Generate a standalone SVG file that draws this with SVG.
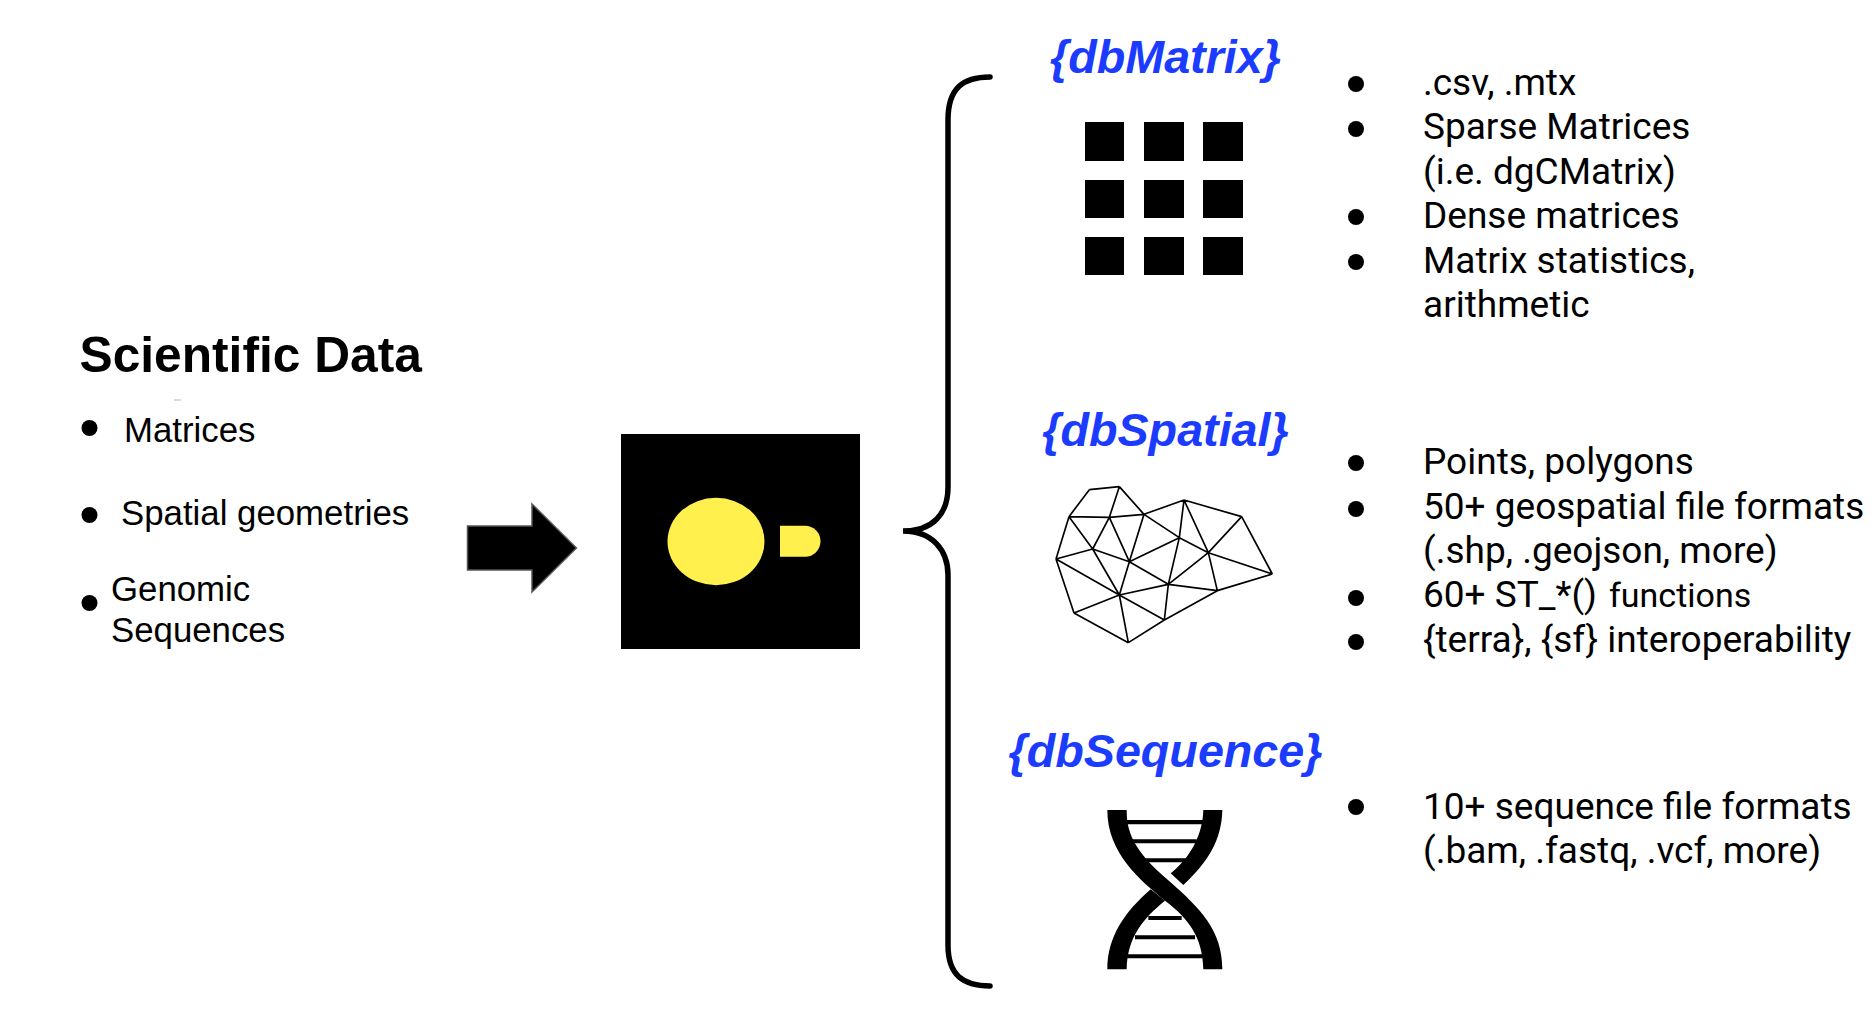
<svg xmlns="http://www.w3.org/2000/svg" width="1874" height="1026" viewBox="0 0 1874 1026">
<style>
.l{font-family:"Liberation Sans",Arial,sans-serif;font-size:34.8px;fill:#000}
.t{font-family:"Liberation Sans",Arial,sans-serif;font-size:49.7px;font-weight:700;fill:#000}
.h{font-family:"Liberation Sans",Arial,sans-serif;font-size:46.7px;font-weight:700;font-style:italic;fill:#1b3bff;text-anchor:middle}
.r{font-family:Roboto,sans-serif;font-size:37px;fill:#000}
.y{fill:#fff04d}
.sq{fill:#000}
</style>
<rect width="1874" height="1026" fill="#fff"/>
<g id="scientific-data">
<text class="t" x="79.500" y="372">Scientific Data</text>
<rect x="174" y="399.5" width="7" height="1" fill="#bbb"/>
<circle cx="89.500" cy="428" r="8"/><text class="l" x="124" y="442">Matrices</text>
<circle cx="89.500" cy="515" r="8"/><text class="l" x="121" y="524.500">Spatial geometries</text>
<circle cx="89.500" cy="603" r="8"/><text class="l" x="111" y="601">Genomic</text><text class="l" x="111" y="642">Sequences</text>
</g>
<g id="logo">
<rect x="621" y="434" width="239" height="215" fill="#000"/>
<ellipse class="y" cx="716" cy="541.5" rx="48.5" ry="43.7"/>
<path class="y" d="M780 525.7H805a15.500 15.500 0 0 1 0 31H780Z"/>
</g>
<g id="connectors">
<path d="M467.500 526H532V504L576.400 548L532 592V570H467.500Z" fill="#000" stroke="#555" stroke-width="1.500"/>
<path d="M990 77C963 77 948 88 948 120V487C948 515 932 531 903 531C932 531 948 550 948 575V945C948 975 963 986 990 986" fill="none" stroke="#000" stroke-width="5.500" stroke-linecap="round"/>
</g>
<g id="dbMatrix">
<text class="h" x="1165.500" y="73">{dbMatrix}</text>
<g>
<rect class="sq" x="1085" y="122" width="39" height="39"/><rect class="sq" x="1144" y="122" width="40" height="39"/><rect class="sq" x="1203" y="122" width="40" height="39"/>
<rect class="sq" x="1085" y="180" width="39" height="38"/><rect class="sq" x="1144" y="180" width="40" height="38"/><rect class="sq" x="1203" y="180" width="40" height="38"/>
<rect class="sq" x="1085" y="237" width="39" height="38"/><rect class="sq" x="1144" y="237" width="40" height="38"/><rect class="sq" x="1203" y="237" width="40" height="38"/>
</g>
<circle cx="1356" cy="84" r="8"/><text class="r" x="1423" y="95">.csv, .mtx</text>
<circle cx="1356" cy="129" r="8"/><text class="r" x="1423" y="139">Sparse Matrices</text>
<text class="r" x="1423" y="184">(i.e. dgCMatrix)</text>
<circle cx="1356" cy="217" r="8"/><text class="r" x="1423" y="228">Dense matrices</text>
<circle cx="1356" cy="262" r="8"/><text class="r" x="1423" y="273">Matrix statistics,</text>
<text class="r" x="1423" y="317">arithmetic</text>
</g>
<g id="dbSpatial">
<text class="h" x="1165.500" y="446">{dbSpatial}</text>
<path transform="translate(1000 450) scale(.33333)" fill="none" stroke="#000" stroke-width="5" stroke-linejoin="round" d="M268 119L358 110M268 119L207 200M358 110L328 202M358 110L432 193M207 200L328 202M328 202L432 193M432 193L552 150M552 150L725 200M432 193L538 263M552 150L538 263M552 150L625 308M725 200L625 308M725 200L817 372M207 200L278 297M328 202L278 297M328 202L388 335M432 193L388 335M207 200L168 327M168 327L278 297M278 297L388 335M388 335L538 263M538 263L625 308M538 263L505 403M625 308L817 372M625 308L505 403M625 308L652 422M388 335L505 403M388 335L358 435M278 297L358 435M168 327L358 435M168 327L222 489M222 489L358 435M358 435L505 403M505 403L652 422M505 403L493 510M652 422L817 372M652 422L493 510M358 435L493 510M358 435L385 578M222 489L385 578M493 510L385 578"/>
<circle cx="1356" cy="463" r="8"/><text class="r" x="1423" y="474">Points, polygons</text>
<circle cx="1356" cy="509" r="8"/><text class="r" x="1423" y="518.500">50+ geospatial file formats</text>
<text class="r" x="1423" y="563">(.shp, .geojson, more)</text>
<circle cx="1356" cy="598" r="8"/><text class="r" x="1423" y="607">60+ ST_*() <tspan x="1609" font-size="34">functions</tspan></text>
<circle cx="1356" cy="642" r="8"/><text class="r" x="1423" y="651.500">{terra}, {sf} interoperability</text>
</g>
<g id="dbSequence">
<text class="h" x="1165.500" y="767">{dbSequence}</text>
<g transform="translate(1060 790) scale(.33333)" fill="#000">
<path d="M200 90H430V103H200ZM215 148H410V160H215ZM255 205H380V217H255ZM265 378H365V390H265ZM225 436H405V448H225ZM200 493H430V505H200Z"/>
<path d="M142 60H200C200 120 215 180 330 275C420 355 487 420 487 538H430C428 440 385 385 315 332C240 270 142 190 142 60Z"/>
<path d="M430 60H487C485 150 445 215 370 285L332 250C395 200 428 130 430 60Z"/>
<path d="M272 298L315 332C250 385 202 440 200 538H142C142 440 195 365 272 298Z"/>
</g>
<circle cx="1356" cy="807" r="8"/><text class="r" x="1423" y="819">10+ sequence file formats</text>
<text class="r" x="1423" y="863">(.bam, .fastq, .vcf, more)</text>
</g>
</svg>
